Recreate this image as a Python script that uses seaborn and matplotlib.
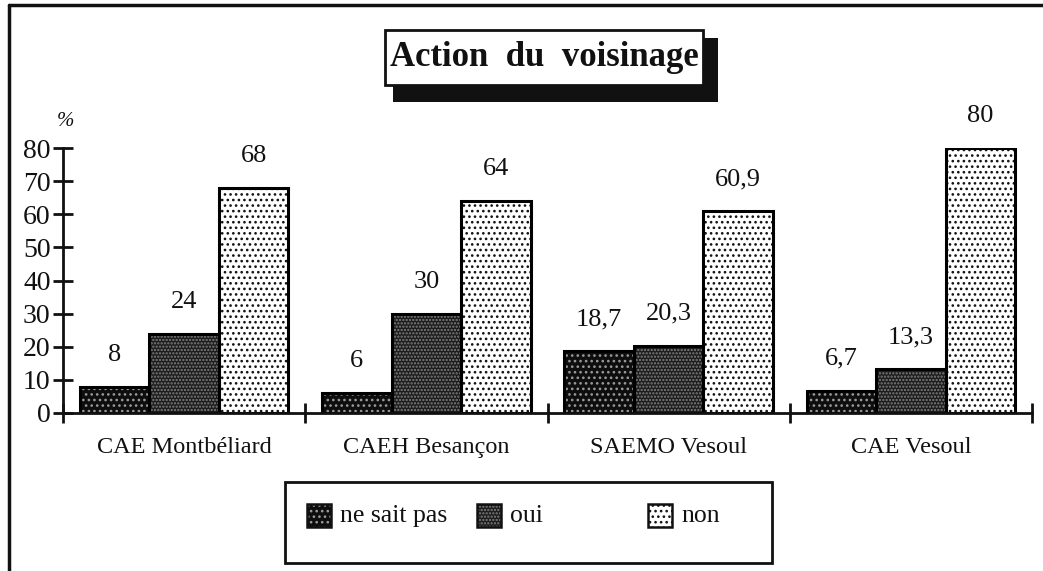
import numpy as np
import pandas as pd
import matplotlib
matplotlib.use("Agg")
import matplotlib.pyplot as plt
import seaborn as sns
from matplotlib.patches import Rectangle
from matplotlib.lines import Line2D

# ---------------- data ----------------
categories = ["CAE Montbéliard", "CAEH Besançon", "SAEMO Vesoul", "CAE Vesoul"]
series = ["ne sait pas", "oui", "non"]
ne_sait_pas = [8, 6, 18.7, 6.7]
oui = [24, 30, 20.3, 13.3]
non = [68, 64, 60.9, 80]
yticks = [0, 10, 20, 30, 40, 50, 60, 70, 80]
title = "Action  du  voisinage"
ylabel = "%"

values = {"ne sait pas": ne_sait_pas, "oui": oui, "non": non}
df = pd.DataFrame({
    "cat": categories * 3,
    "serie": [s for s in series for _ in categories],
    "val": ne_sait_pas + oui + non,
})

# ---------------- style ----------------
sns.set_theme(style="white")
plt.rcParams["font.family"] = ["Liberation Serif", "DejaVu Serif"]
plt.rcParams["hatch.linewidth"] = 1.1

styles = {
    "ne sait pas": dict(face="#0e0e0e", hatch="...", hc="#9a9a9a"),
    "oui": dict(face="#1c1c1c", hatch=".....", hc="#808080"),
    "non": dict(face="white", hatch="...", hc="#111111"),
}

W, H = 1043, 571
fig = plt.figure(figsize=(W / 100, H / 100), dpi=100, facecolor="white")


def fx(px):
    return px / W


def fy(py):
    return 1 - py / H


ax = fig.add_axes([fx(63), fy(413), fx(1032) - fx(63), fy(148) - fy(413)])
ax.set_facecolor("none")

sns.barplot(data=df, x="cat", y="val", hue="serie", order=categories,
            hue_order=series, width=0.86, dodge=True, legend=False,
            palette=["#0e0e0e", "#1c1c1c", "white"], saturation=1,
            errorbar=None, ax=ax)


def fmt(v):
    return f"{v:g}".replace(".", ",")


for lvl, cont in zip(series, ax.containers):
    st = styles[lvl]
    for p, v in zip(cont, values[lvl]):
        p.set_facecolor(st["face"])
        p.set_edgecolor(st["hc"])
        p.set_hatch(st["hatch"])
        p.set_linewidth(0)
        ax.add_patch(Rectangle(p.get_xy(), p.get_width(), p.get_height(),
                               fill=False, ec="black", lw=2.2,
                               zorder=p.get_zorder() + 0.1))
        ax.annotate(fmt(v), (p.get_x() + p.get_width() / 2, p.get_height()),
                    xytext=(0, 23), textcoords="offset points",
                    ha="center", va="center", fontsize=19,
                    annotation_clip=False, color="#111111")

ax.set_xlim(-0.5, 3.5)
ax.set_ylim(0, 80)
ax.set_xlabel("")
ax.set_ylabel("")
for s in ["top", "right"]:
    ax.spines[s].set_visible(False)
for s in ["left", "bottom"]:
    ax.spines[s].set_linewidth(2)
    ax.spines[s].set_color("#111111")

ax.set_yticks(yticks)
ax.set_yticklabels([str(t) for t in yticks])
ax.tick_params(axis="y", direction="inout", length=14, width=2,
               labelsize=20, pad=2, colors="#111111", left=True)
ax.set_xticks(range(len(categories)))
ax.set_xticklabels(categories)
ax.tick_params(axis="x", which="major", length=0, labelsize=17.5, pad=17,
               colors="#111111")
ax.set_xticks([-0.5, 0.5, 1.5, 2.5, 3.5], minor=True)
ax.tick_params(axis="x", which="minor", direction="inout", length=14,
               width=2, bottom=True, color="#111111")

fig.text(fx(66), fy(121), ylabel, fontsize=15, style="italic",
         ha="center", va="center", color="#111111")

# outer frame (left and top)
fig.add_artist(Line2D([fx(9), fx(9)], [fy(5), 0], color="#111111", lw=2.5))
fig.add_artist(Line2D([fx(9), 1], [fy(5), fy(5)], color="#111111", lw=2.5))

# title box with shadow
fig.add_artist(Rectangle((fx(393), fy(102)), fx(718) - fx(393),
                         (102 - 38) / H, fc="#111111", ec="none"))
fig.add_artist(Rectangle((fx(385), fy(85)), fx(703) - fx(385),
                         (85 - 30) / H, fc="white", ec="#111111", lw=2))
fig.text(fx(544), fy(57.5), title, fontsize=25, fontweight="bold",
         ha="center", va="center", color="#111111")

# legend
fig.add_artist(Rectangle((fx(285), fy(563)), fx(772) - fx(285),
                         (563 - 482) / H, fill=False, ec="#111111", lw=2))
leg_x = [307, 477, 648]
for lvl, lx in zip(series, leg_x):
    st = styles[lvl]
    fig.add_artist(Rectangle((fx(lx), fy(527)), 24 / W, 23 / H,
                             fc=st["face"], ec=st["hc"], hatch=st["hatch"],
                             lw=0))
    fig.add_artist(Rectangle((fx(lx), fy(527)), 24 / W, 23 / H,
                             fill=False, ec="#111111", lw=1.8))
    fig.text(fx(lx + 33), fy(516), lvl, fontsize=18.5, ha="left",
             va="center", color="#111111")

fig.savefig("out.png", dpi=100, facecolor="white")
